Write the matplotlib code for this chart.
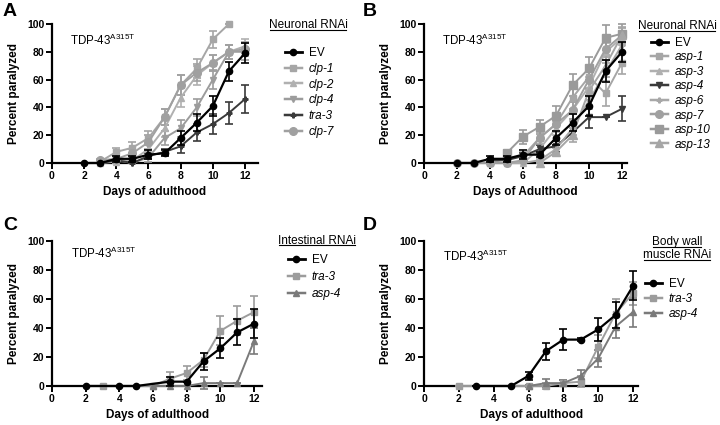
import numpy as np
import matplotlib
matplotlib.use("Agg")
from matplotlib import pyplot as plt
from matplotlib.lines import Line2D

plt.rcParams['font.family'] = ['Liberation Sans', 'DejaVu Sans']
plt.rcParams['mathtext.default'] = 'regular'

# --- Daten
# Panel A: neuronale RNAi, clp-Gene
a_names = ['EV', 'clp-1', 'clp-2', 'clp-4', 'tra-3', 'clp-7']
a_days = [range(2, 13), range(3, 12), range(3, 13), range(3, 13), range(2, 13), range(3, 13)]
a_vals = [[0, 0, 3, 3, 6, 7, 18, 29, 41, 66, 79],
          [1, 8, 11, 18, 33, 56, 68, 89, 100],
          [0, 1, 2, 10, 25, 47, 63, 72, 80, 84],
          [0, 2, 0, 4, 18, 25, 40, 60, 80, 80],
          [0, 0, 2, 0, 5, 8, 12, 22, 28, 36, 46],
          [2, 3, 7, 15, 33, 56, 65, 72, 80, 82]]
a_err = [[0, 0, 2, 2, 3, 2, 5, 6, 7, 7, 7],
         [1, 3, 4, 5, 6, 7, 7, 6, 0],
         [0, 1, 2, 4, 6, 7, 7, 6, 5, 5],
         [0, 1, 0, 3, 5, 6, 6, 7, 5, 6],
         [0, 0, 1, 0, 2, 2, 5, 6, 7, 8, 10],
         [1, 2, 3, 5, 6, 7, 6, 6, 5, 5]]

# Panel B: neuronale RNAi, asp-Gene
b_names = ['EV', 'asp-1', 'asp-3', 'asp-4', 'asp-6', 'asp-7', 'asp-10', 'asp-13']
b_days = [range(2, 13), range(4, 13), range(5, 13), range(4, 13), range(6, 13),
          range(2, 13), range(5, 13), range(7, 13)]
b_vals = [[0, 0, 3, 3, 6, 6, 18, 29, 41, 66, 80],
          [0, 3, 5, 18, 28, 47, 62, 50, 72],
          [0, 0, 10, 25, 38, 55, 80, 90],
          [2, 2, 5, 10, 12, 22, 33, 33, 39],
          [0, 2, 10, 25, 45, 65, 85],
          [0, 0, 0, 0, 2, 18, 28, 38, 60, 82, 92],
          [7, 19, 26, 34, 56, 68, 90, 93],
          [0, 8, 20, 52, 70, 92]]
b_err = [[0, 0, 2, 2, 3, 2, 5, 6, 7, 8, 7],
         [0, 2, 3, 5, 6, 8, 8, 9, 8],
         [0, 0, 3, 5, 6, 7, 6, 5],
         [1, 1, 2, 3, 4, 5, 8, 0, 9],
         [0, 1, 3, 5, 6, 7, 6],
         [0, 0, 0, 0, 1, 4, 5, 6, 7, 6, 5],
         [2, 5, 5, 7, 8, 8, 9, 7],
         [0, 3, 5, 7, 8, 6]]

# Panel C: intestinale RNAi
c_names = ['EV', 'tra-3', 'asp-4']
c_days = [[2, 4, 5, 7, 8, 9, 10, 11, 12], [3, 6, 7, 8, 9, 10, 11, 12], range(6, 13)]
c_vals = [[0, 0, 0, 3, 3, 17, 26, 37, 43],
          [0, 0, 5, 9, 18, 38, 45, 51],
          [0, 0, 0, 2, 2, 2, 31]]
c_err = [[0, 0, 0, 3, 0, 6, 7, 9, 10],
         [0, 0, 5, 5, 5, 10, 10, 11],
         [0, 0, 0, 4, 0, 0, 9]]

# Panel D: Koerperwandmuskel-RNAi
d_names = ['EV', 'tra-3', 'asp-4']
d_days = [[3, 5, 6, 7, 8, 9, 10, 11, 12], [2, 6, 7, 8, 9, 10, 11, 12], range(6, 13)]
d_vals = [[0, 0, 7, 24, 32, 32, 39, 49, 69],
          [0, 0, 0, 2, 3, 27, 50, 64],
          [0, 2, 2, 7, 19, 41, 51]]
d_err = [[0, 0, 3, 6, 7, 1, 8, 9, 10],
         [0, 1, 2, 2, 4, 8, 10, 8],
         [1, 3, 2, 4, 6, 8, 10]]

# --- Stile je Serie (Farbe, Marker, Markergroesse)
style = {
    'EV':     ('black', 'o', 4.5),
    'clp-1':  ('#a6a6a6', 's', 4.5),
    'clp-2':  ('#b0b0b0', '^', 4.5),
    'clp-4':  ('#9c9c9c', 'v', 4.5),
    'tra-3':  ('#3a3a3a', 'P', 3.5),
    'clp-7':  ('#a0a0a0', 'o', 5.5),
    'asp-1':  ('#a6a6a6', 's', 4.0),
    'asp-3':  ('#b0b0b0', '^', 4.0),
    'asp-4':  ('#3a3a3a', 'v', 4.0),
    'asp-6':  ('#a8a8a8', 'P', 3.5),
    'asp-7':  ('#a0a0a0', 'o', 5.5),
    'asp-10': ('#9a9a9a', 's', 6.0),
    'asp-13': ('#a6a6a6', '^', 6.0),
}
style_cd = {'EV': ('black', 'o', 4.5), 'tra-3': ('#9c9c9c', 's', 4.5),
            'asp-4': ('#7a7a7a', '^', 4.5)}

W, H = 720, 425
fig = plt.figure(figsize=(W / 100, H / 100), dpi=100)
FS_LEG = 8.5
FS_PX = FS_LEG * 100 / 72.0


def make_ax(x0, x12, ytop, ybot, xend):
    """Achse aus Pixelpositionen der Referenz anlegen."""
    px = (x12 - x0) / 12.0
    return fig.add_axes([x0 / W, 1 - ybot / H, xend * px / W, (ybot - ytop) / H]), xend


def draw(ax, xend, names, days, vals, errs, stl, xlabel, leg, leg_title, letter, tdp_y):
    handles = []
    for n, d, v, e in zip(names, days, vals, errs):
        c, m, ms = stl[n]
        lw = 1.6 if n == 'EV' else 1.4
        z = 5 if n == 'EV' else 3
        ax.errorbar(list(d), v, yerr=e, color=c, marker=m, ms=ms, lw=lw, capsize=3,
                    elinewidth=1.2, capthick=1.2, clip_on=False, zorder=z)
        handles.append(Line2D([], [], color=c, marker=m, ms=ms, lw=lw + 0.4))
    ax.set_xlim(0, xend)
    ax.set_ylim(0, 100)
    ax.set_xticks(range(0, 13, 2))
    ax.set_yticks(range(0, 101, 20))
    ax.spines['top'].set_visible(False)
    ax.spines['right'].set_visible(False)
    for s in ('left', 'bottom'):
        ax.spines[s].set_linewidth(1.6)
    ax.tick_params(width=1.4, length=4, labelsize=7.5, pad=1.5)
    for lbl in ax.get_xticklabels() + ax.get_yticklabels():
        lbl.set_fontweight('bold')
    ax.set_xlabel(xlabel, fontsize=8.5, fontweight='bold', labelpad=4)
    ax.set_ylabel('Percent paralyzed', fontsize=8.5, fontweight='bold', labelpad=5)
    ax.text(1.1, tdp_y, 'TDP-43$^{A315T}$', fontsize=8.3)

    # Legende: (x Linienanfang, y Mitte erster Eintrag, Abstand in px)
    lx, ly, sp = leg
    lg = ax.legend(handles, names, loc='upper left',
                   bbox_to_anchor=(lx / W, 1 - (ly - FS_PX * 0.6) / H),
                   bbox_transform=fig.transFigure, frameon=False, fontsize=FS_LEG,
                   handlelength=1.4, handletextpad=0.6,
                   labelspacing=(sp - FS_PX * 1.15) / FS_PX,
                   borderpad=0, borderaxespad=0)
    for t in lg.get_texts():
        if t.get_text() != 'EV':
            t.set_style('italic')

    fig.text(letter[0] / W, 1 - letter[1] / H, letter[2], fontsize=14, fontweight='bold',
             va='center', ha='left')
    for txt, tx, ty in leg_title:
        t = fig.text(tx / W, 1 - ty / H, txt, fontsize=8.5, ha='center', va='center')
        titles.append(t)


titles = []
axA, eA = make_ax(52, 245, 24, 163, 12.8)
draw(axA, eA, a_names, a_days, a_vals, a_err, style, 'Days of adulthood',
     (285, 54, 17.4), [('Neuronal RNAi', 308, 25)], (3, 11, 'A'), 85)

axB, eB = make_ax(424, 622, 24, 163, 12.3)
draw(axB, eB, b_names, b_days, b_vals, b_err, style, 'Days of Adulthood',
     (651, 44, 16.1), [('Neuronal RNAi', 677, 26)], (363, 11, 'B'), 85)

axC, eC = make_ax(52, 254, 241, 386, 12.5)
draw(axC, eC, c_names, c_days, c_vals, c_err, style_cd, 'Days of adulthood',
     (288, 261, 18.5), [('Intestinal RNAi', 317, 241)], (3, 226, 'C'), 88)

axD, eD = make_ax(424, 633, 241, 386, 12.3)
draw(axD, eD, d_names, d_days, d_vals, d_err, style_cd, 'Days of adulthood',
     (645, 285, 16.5), [('Body wall', 677, 242), ('muscle RNAi', 677, 255)], (363, 226, 'D'), 86)

# Unterstreichen der Legendentitel
fig.canvas.draw()
r = fig.canvas.get_renderer()
for t in titles:
    bb = t.get_window_extent(r)
    y = (bb.y0 + 1.5) / H
    fig.add_artist(Line2D([(bb.x0 + 1) / W, (bb.x1 - 1) / W], [y, y], transform=fig.transFigure,
                          color='black', lw=0.8))

fig.savefig('out.png', dpi=100)
